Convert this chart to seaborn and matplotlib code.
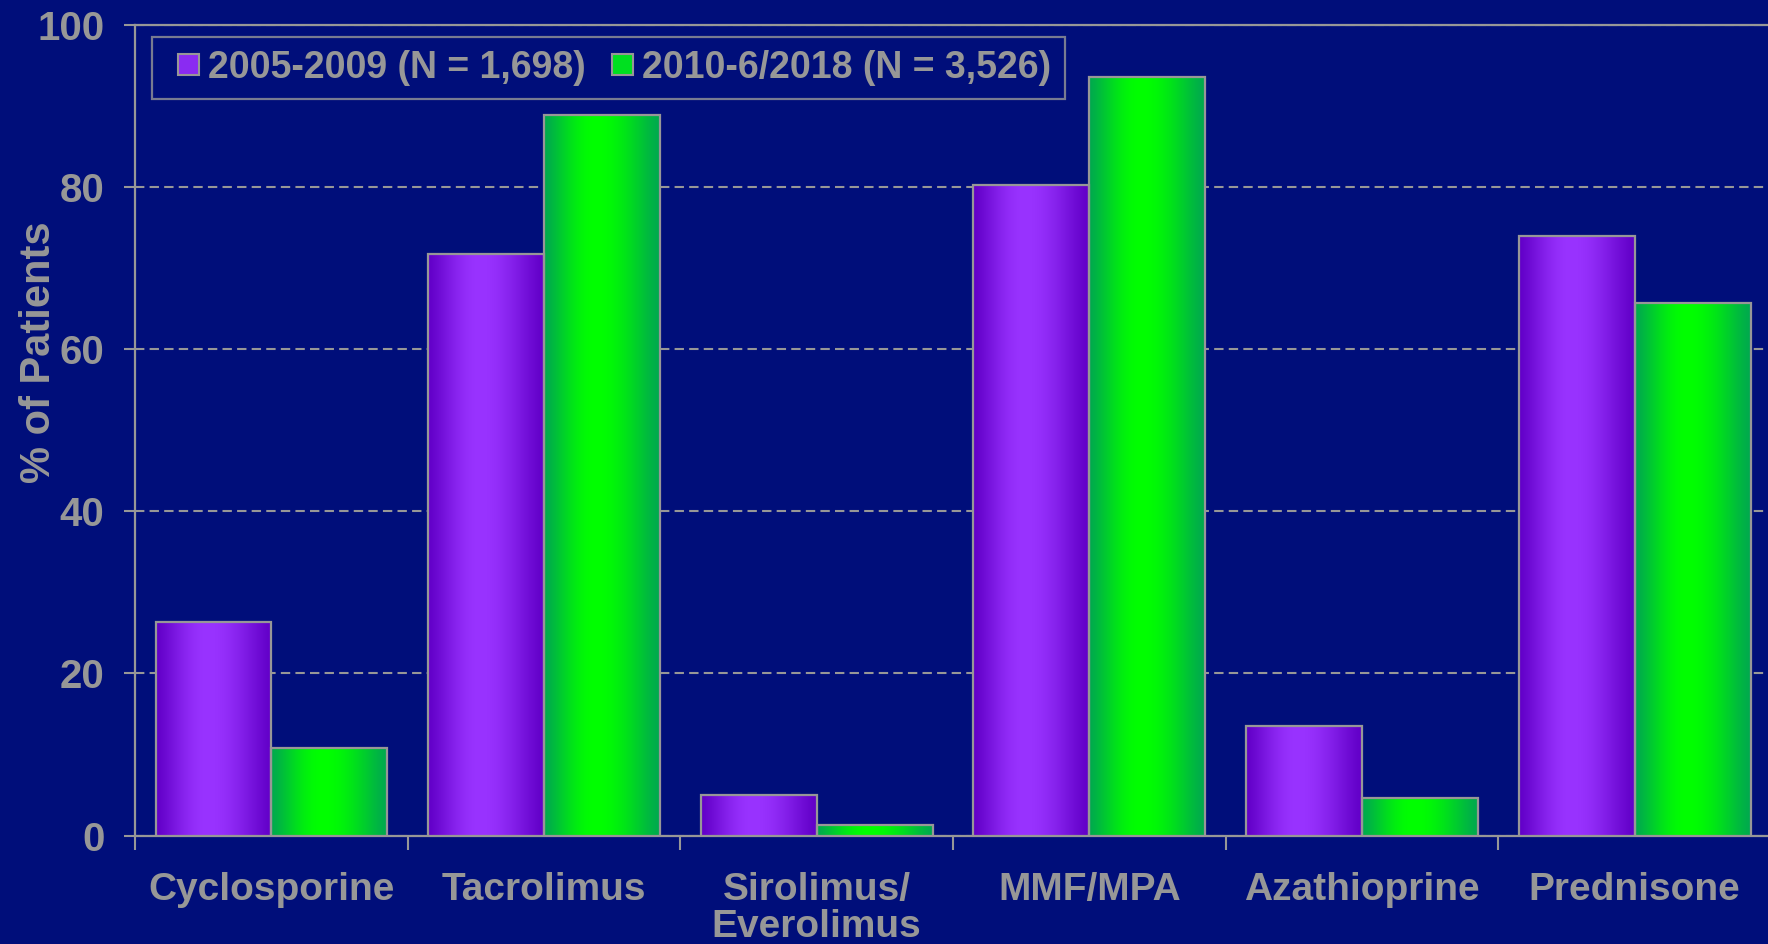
import numpy as np
import pandas as pd
import matplotlib
matplotlib.use("Agg")
import matplotlib.pyplot as plt
import matplotlib.patches as mpatches
from matplotlib.legend_handler import HandlerPatch
from matplotlib.colors import to_rgb
import seaborn as sns

# Immunosuppression use by era (% of patients)
drugs = ["Cyclosporine", "Tacrolimus", "Sirolimus/\nEverolimus",
         "MMF/MPA", "Azathioprine", "Prednisone"]
era_labels = ["2005-2009 (N = 1,698)", "2010-6/2018 (N = 3,526)"]
pct_2005_2009 = [26.4, 71.7, 5.0, 80.3, 13.5, 73.9]
pct_2010_2018 = [10.8, 88.9, 1.25, 93.6, 4.6, 65.7]
y_ticks = [0, 20, 40, 60, 80, 100]

BG = "#000E7A"
GREY = "#979797"
# (edge colour, centre highlight) for each era's gradient fill
shades = [("#6200C8", "#9933FF"), ("#00A94E", "#00FF00")]
solid = ["#8A2BF2", "#00E020"]

df = pd.DataFrame({
    "drug": drugs * 2,
    "era": [era_labels[0]] * len(drugs) + [era_labels[1]] * len(drugs),
    "pct": pct_2005_2009 + pct_2010_2018,
})

sns.set_theme(style="white")
plt.rcParams["font.family"] = ["Liberation Sans", "DejaVu Sans"]
plt.rcParams["font.weight"] = "bold"

fig = plt.figure(figsize=(17.68, 9.44), dpi=100, facecolor=BG)
ax = fig.add_axes([0.0764, 0.1148, 0.9253, 0.8589])
ax.set_facecolor(BG)

sns.barplot(data=df, x="drug", y="pct", hue="era", order=drugs,
            hue_order=era_labels, palette=solid, width=0.85,
            edgecolor=GREY, linewidth=1.6, saturation=1, legend=False,
            ax=ax, zorder=3)


def gradient_row(edge, centre, n=256, peak=0.45):
    e = np.array(to_rgb(edge))
    c = np.array(to_rgb(centre))
    t = np.linspace(0, 1, n)
    d = np.where(t < peak, (peak - t) / peak, (t - peak) / (1 - peak))
    w = np.cos(np.clip(d, 0, 1) * np.pi / 2) ** 1.3
    return (e[None, :] * (1 - w[:, None]) + c[None, :] * w[:, None])[None, :, :]


# Horizontal shading across each bar, clipped to the bar outline
for container, (edge, centre) in zip(ax.containers, shades):
    img = gradient_row(edge, centre)
    for bar in container.patches:
        x0, y0 = bar.get_x(), bar.get_y()
        w, h = bar.get_width(), bar.get_height()
        im = ax.imshow(img, extent=[x0, x0 + w, y0, y0 + h],
                       aspect="auto", interpolation="bilinear", zorder=3.1)
        im.set_clip_path(bar)
        bar.set_facecolor("none")
        bar.set_zorder(3.2)

n = len(drugs)
ax.set_xlim(-0.5, n - 0.5)
ax.set_ylim(0, 100)

ax.set_yticks(y_ticks)
ax.set_yticklabels([str(v) for v in y_ticks])
ax.yaxis.grid(True, linestyle=(0, (4.5, 2.5)), color=GREY, linewidth=1.5,
              zorder=1)
ax.xaxis.grid(False)

# Ticks between groups, labels centred under groups
ax.set_xticks(np.arange(-0.5, n, 1.0))
ax.set_xticklabels([])
ax.set_xticks(np.arange(n), minor=True)
ax.set_xticklabels(drugs, minor=True, fontsize=28, color=GREY,
                   fontweight="bold", linespacing=1.05)
ax.tick_params(axis="x", which="major", direction="out", length=10,
               width=1.5, color=GREY, bottom=True)
ax.tick_params(axis="x", which="minor", length=0, pad=26)
ax.tick_params(axis="y", direction="out", length=8, width=1.5, color=GREY,
               labelsize=29, labelcolor=GREY, left=True, pad=14)
for lab in ax.get_yticklabels():
    lab.set_fontweight("bold")

ax.set_xlabel("")
ax.set_ylabel("% of Patients", fontsize=30, color=GREY, fontweight="bold")
ax.yaxis.set_label_coords(-0.0465, 0.5965)

for side in ["left", "bottom", "top", "right"]:
    ax.spines[side].set_visible(True)
    ax.spines[side].set_color(GREY)
    ax.spines[side].set_linewidth(1.6)


def small_square(legend, orig_handle, xdescent, ydescent, width, height,
                 fontsize):
    side = height
    return mpatches.Rectangle((width - side - xdescent, -ydescent), side, side)


handles = [mpatches.Patch(facecolor=solid[i], edgecolor=GREY, linewidth=1.5,
                          label=era_labels[i]) for i in range(2)]
leg = ax.legend(handles=handles, loc="upper left",
                bbox_to_anchor=(0.0104, 0.985), borderaxespad=0, ncol=2,
                fontsize=27, frameon=True, fancybox=False,
                handlelength=0.9, handleheight=0.5, handletextpad=0.25,
                columnspacing=0.35, borderpad=0.35,
                handler_map={mpatches.Patch: HandlerPatch(patch_func=small_square)})
leg.get_frame().set_facecolor(BG)
leg.get_frame().set_edgecolor(GREY)
leg.get_frame().set_linewidth(1.6)
leg.set_zorder(5)
for t in leg.get_texts():
    t.set_color(GREY)
    t.set_fontweight("bold")

fig.savefig("out.png", dpi=100, facecolor=BG)
